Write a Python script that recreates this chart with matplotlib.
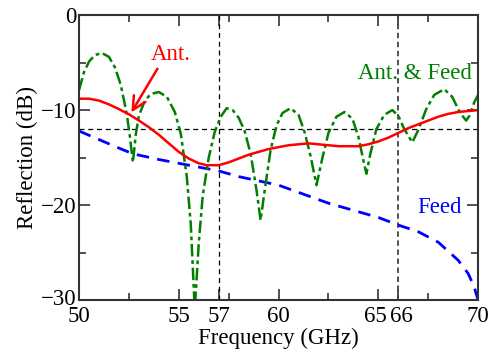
import matplotlib
matplotlib.use("Agg")
import matplotlib.pyplot as plt
import matplotlib.transforms as mtransforms
from matplotlib.ticker import FixedLocator, FuncFormatter, MultipleLocator

plt.rcParams['font.family'] = ['Liberation Serif', 'DejaVu Serif']

# Ant. (red solid)
ant_f = [50, 50.5, 51, 51.5, 52, 52.55, 53, 53.5, 54, 54.5, 55, 55.5, 56, 56.4, 57,
         57.5, 58, 58.5, 59, 59.5, 60, 60.5, 61, 61.5, 62, 62.5, 63, 63.5, 64, 64.5,
         65, 65.5, 66, 66.5, 67, 67.5, 68, 68.5, 69, 69.5, 70]
ant_db = [-8.8, -8.8, -9.0, -9.4, -9.9, -10.5, -11.1, -11.8, -12.6, -13.5, -14.4,
          -15.1, -15.6, -15.8, -15.8, -15.5, -15.1, -14.7, -14.4, -14.1, -13.9, -13.7,
          -13.6, -13.5, -13.6, -13.7, -13.8, -13.8, -13.8, -13.6, -13.3, -12.9, -12.4,
          -11.9, -11.5, -11.1, -10.7, -10.4, -10.2, -10.1, -10.0]

# Feed (blue dashed)
feed_f = [50, 51, 52, 52.7, 54, 55, 56, 57, 58, 60, 62.5, 65, 66, 67, 68, 69, 69.5,
          69.8, 70]
feed_db = [-12.2, -13.1, -14.0, -14.6, -15.2, -15.6, -16.0, -16.4, -17.0, -17.9,
           -19.8, -21.3, -22.1, -22.8, -23.9, -25.8, -27.2, -28.6, -30.0]

# Ant. & Feed (green dash-dot)
both_f = [50, 50.25, 50.5, 50.8, 51.15, 51.5, 51.8, 52.1, 52.4, 52.55, 52.7, 52.85,
          53.0, 53.3, 53.6, 54.0, 54.4, 54.8, 55.1, 55.4, 55.6, 55.8, 56.0, 56.2,
          56.5, 56.8, 57.1, 57.4, 57.7, 58.0, 58.3, 58.6, 58.9, 59.1, 59.3, 59.6,
          59.9, 60.2, 60.6, 61.0, 61.3, 61.6, 61.9, 62.2, 62.5, 62.9, 63.3, 63.7,
          64.0, 64.2, 64.4, 64.6, 64.9, 65.3, 65.7, 66.0, 66.3, 66.7, 67.0, 67.4,
          67.8, 68.3, 68.7, 69.1, 69.4, 69.6, 69.8, 70.0]
both_db = [-7.9, -6.0, -4.9, -4.2, -4.0, -4.4, -5.5, -7.4, -10.5, -12.8, -15.5, -12.5,
           -10.6, -9.0, -8.3, -8.1, -8.6, -10.2, -12.5, -17.0, -22.0, -31.0, -24.0,
           -19.0, -15.0, -12.3, -10.7, -9.8, -10.0, -10.8, -12.2, -14.6, -18.5, -21.6,
           -18.5, -14.2, -11.6, -10.3, -9.8, -10.5, -12.3, -14.8, -17.9, -15.0, -12.4,
           -10.7, -10.2, -10.9, -12.8, -14.8, -16.7, -14.6, -12.0, -10.5, -10.0,
           -10.6, -12.0, -13.4, -12.1, -9.9, -8.4, -7.8, -8.6, -10.3, -11.1, -10.5,
           -9.2, -8.4]

x_ticks = [50, 55, 57, 60, 65, 66, 70]
x_minor = [52.5, 57.5, 62.5, 67.5]
marker_lines = [57, 66]
threshold = -12

fig = plt.figure(figsize=(4.97, 3.59), dpi=100)
ax = fig.add_axes([0.159, 0.164, 0.803, 0.794])

ax.axhline(threshold, color='black', lw=0.9, ls=(0, (4, 3)))
ax.axvline(marker_lines[0], color='black', lw=0.9, ls=(0, (4, 3)))
ax.axvline(marker_lines[1], color='#444444', lw=1.3, ls=(0, (3, 2)))

ax.plot(feed_f, feed_db, color='blue', lw=2.0, ls=(0, (4.5, 3)))
ax.plot(both_f, both_db, color='green', lw=1.8, ls=(0, (5, 1.5, 1.5, 1.5)))
ax.plot(ant_f, ant_db, color='red', lw=1.8)

ax.text(53.6, -4.2, 'Ant.', color='red', fontsize=16.5, va='center', ha='left')
ax.annotate('', xy=(52.55, -10.5), xytext=(54.0, -5.4),
            arrowprops=dict(arrowstyle='->', color='red', lw=1.8, mutation_scale=24))
ax.text(69.7, -6.2, 'Ant. & Feed', color='green', fontsize=16.5, va='center', ha='right')
ax.text(69.2, -20.2, 'Feed', color='blue', fontsize=16.5, va='center', ha='right')

ax.set_xlim(50, 70)
ax.set_ylim(-30, 0)
ax.xaxis.set_major_locator(FixedLocator(x_ticks))
ax.xaxis.set_minor_locator(FixedLocator(x_minor))
ax.yaxis.set_major_locator(MultipleLocator(10))
ax.yaxis.set_minor_locator(MultipleLocator(5))
ax.yaxis.set_major_formatter(FuncFormatter(lambda v, p: ('\u2212%d' % -v) if v < 0 else '%d' % v))
ax.tick_params(which='both', direction='in', top=True, right=True, labelsize=16.5,
               color='#333333')
ax.tick_params(which='major', length=8, width=1.2)
ax.tick_params(which='minor', length=5, width=1.2)
ax.tick_params(axis='x', pad=4)
ax.tick_params(axis='y', pad=2)
# no tick marks at the marked frequencies, only labels
for t in ax.xaxis.get_major_ticks():
    if t.get_loc() in marker_lines:
        t.tick1line.set_visible(False)
        t.tick2line.set_visible(False)
for s in ax.spines.values():
    s.set_color('#333333')
    s.set_linewidth(1.5)

# nudge crowded labels apart a little
fig.canvas.draw()
for lab in ax.get_xticklabels():
    dx = {'65': -2, '66': 2}.get(lab.get_text())
    if dx:
        lab.set_transform(lab.get_transform() +
                          mtransforms.ScaledTranslation(dx / 72, 0, fig.dpi_scale_trans))
for lab in ax.get_yticklabels():
    if lab.get_text() == '\u221230':
        lab.set_transform(lab.get_transform() +
                          mtransforms.ScaledTranslation(0, 2.5 / 72, fig.dpi_scale_trans))

ax.set_xlabel('Frequency (GHz)', fontsize=16.5, labelpad=1)
ax.set_ylabel('Reflection (dB)', fontsize=16.5, labelpad=2)

fig.savefig('out.png', dpi=100)
